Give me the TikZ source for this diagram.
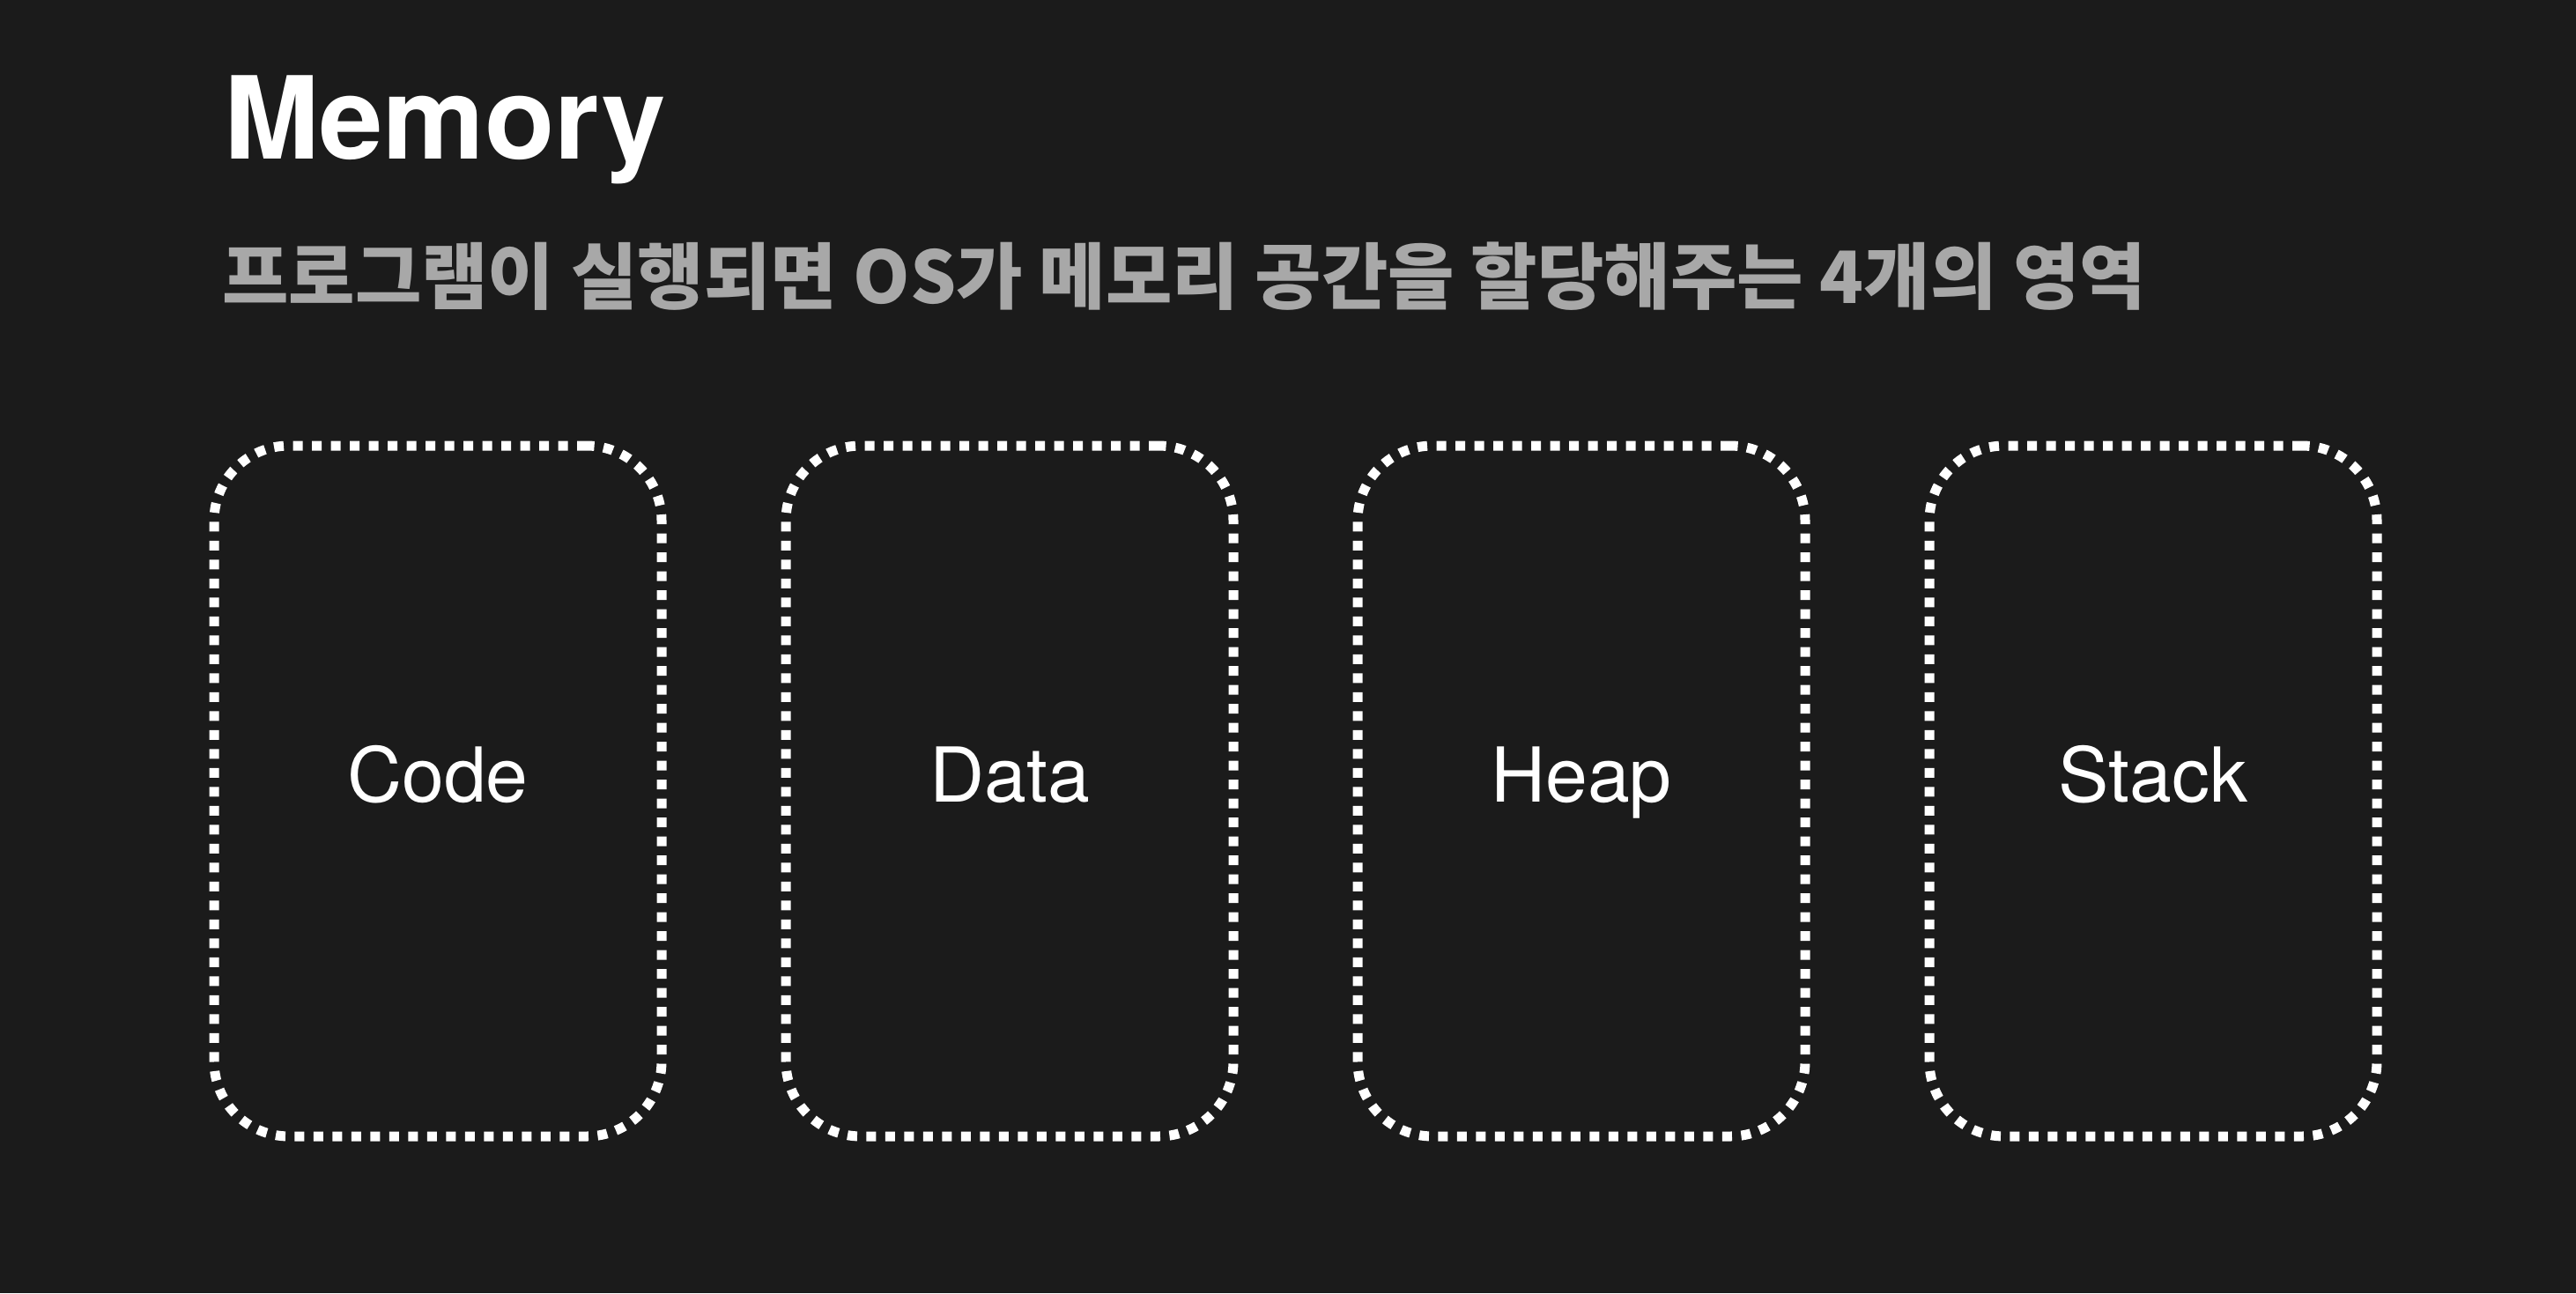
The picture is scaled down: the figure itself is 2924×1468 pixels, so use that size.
\documentclass[tikz,border=0pt]{standalone}
\usepackage{fontspec}
\setmainfont{TeX Gyre Heros}
\newfontfamily\cjk{Noto Sans CJK KR}
\definecolor{bg}{HTML}{1B1B1B}
\definecolor{subgray}{HTML}{A8A8A8}
\begin{document}
\begin{tikzpicture}[x=1pt,y=-1pt,
  memblock/.style={draw=white, line width=11pt, dash pattern=on 11pt off 10.5pt,
    rounded corners=85pt, minimum width=508pt, minimum height=784pt, inner sep=0pt},
  lbl/.style={text=white, inner sep=0pt, anchor=base, font=\fontsize{86}{100}\selectfont}]
\useasboundingbox (0,0) rectangle (2924,1468);
\fill[bg] (0,0) rectangle (2924,1468);
\node[anchor=base west, inner sep=0pt, text=white, font=\fontsize{130}{150}\selectfont\bfseries] (title) at (254,180) {Memory};
\node[anchor=base west, inner sep=0pt, text=subgray, font=\fontsize{82}{96}\selectfont\cjk\bfseries] (subtitle) at (252,344) {프로그램이 실행되면 OS가 메모리 공간을 할당해주는 4개의 영역};
\node[memblock] (code) at (497,898) {};
\node[memblock] (data) at (1146,898) {};
\node[memblock] (heap) at (1795,898) {};
\node[memblock] (stack) at (2444,898) {};
\node[lbl] (codel) at ([yshift=-12pt]code.center) {Code};
\node[lbl] (datal) at ([yshift=-12pt]data.center) {Data};
\node[lbl] (heapl) at ([yshift=-12pt]heap.center) {Heap};
\node[lbl] (stackl) at ([yshift=-12pt]stack.center) {Stack};
\end{tikzpicture}
\end{document}
